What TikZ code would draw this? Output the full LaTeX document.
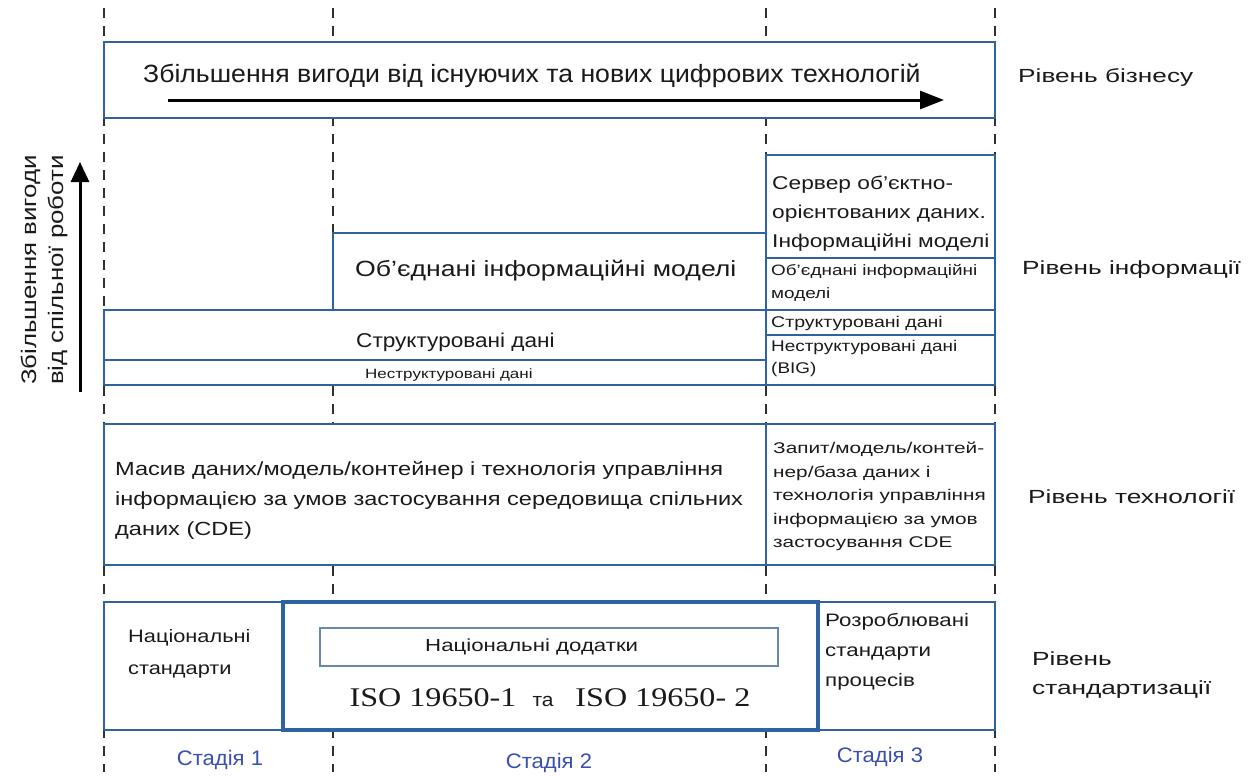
\documentclass[tikz,border=0pt]{standalone}
\usepackage{fontspec}
\setmainfont{Liberation Sans}
\newcommand\tf[3]{\fontspec{Liberation Sans}[FakeStretch=#1]\fontsize{#2}{#3}\selectfont}
\newcommand\tfser[3]{\fontspec{Liberation Serif}[FakeStretch=#1]\fontsize{#2}{#3}\selectfont}
\usetikzlibrary{arrows.meta}
\definecolor{boxblue}{HTML}{2F62A0}
\definecolor{innerblue}{HTML}{6A88AE}
\definecolor{stageblue}{HTML}{3B4FB0}
\definecolor{dashgray}{HTML}{303030}
\definecolor{txt}{HTML}{1A1A1A}
\begin{document}
\begin{tikzpicture}[x=1pt,y=-1pt,
  guide/.style={draw=dashgray,line width=2.4pt,dash pattern=on 10pt off 8pt},
  box/.style={draw=boxblue,line width=2.3pt,fill=white},
  thickbox/.style={draw=boxblue,line width=4.2pt},
  innerbox/.style={draw=innerblue,line width=1.4pt,fill=white},
  lbl/.style={inner sep=0pt,text=txt,align=left},
  stage/.style={inner sep=0pt,text=stageblue,font=\tf{1.05}{21}{25}},
  level/.style={inner sep=0pt,text=txt,align=left,anchor=west,font=\tf{1.38}{19}{29}},
  bigarrow/.style={line width=3pt,-{Triangle[length=24pt,width=18pt]}}
]
\useasboundingbox (0,0) rectangle (1256,776);
\fill[white] (0,0) rectangle (1256,776);
% stage guides
\foreach \gx/\gn in {104/g1,333/g2,766/g3,995/g4}{
  \coordinate (\gn t) at (\gx,8);
  \coordinate (\gn b) at (\gx,772);
  \draw[guide] (\gn t) -- (\gn b);
}
% business level
\draw[box] (104,42) rectangle (995,118);
\node[lbl,anchor=west,font=\tf{1.065}{25}{30}] (biztext) at (143,76) {Збільшення вигоди від існуючих та нових цифрових технологій};
\coordinate (bizA) at (168,100);
\coordinate (bizB) at (944,100);
\draw[bigarrow] (bizA) -- (bizB);
% information level - left
\draw[box] (333,233) rectangle (766,310);
\node[lbl,anchor=west,font=\tf{1.21}{22}{26}] (oim) at (355,271) {Об’єднані інформаційні моделі};
\draw[box] (104,310) rectangle (766,360);
\node[lbl,anchor=west,font=\tf{1.13}{20}{23}] (sd) at (356,342) {Структуровані дані};
\draw[box] (104,360) rectangle (766,385);
\node[lbl,anchor=west,font=\tf{1.26}{13.5}{16}] (nd) at (365,375) {Неструктуровані дані};
% information level - right column
\draw[box] (766,155) rectangle (995,258);
\node[lbl,anchor=north west,font=\tf{1.23}{18.5}{29}] (srv) at (772,176) {Сервер об’єктно-\\орієнтованих даних.\\Інформаційні моделі};
\draw[box] (766,258) rectangle (995,310);
\node[lbl,anchor=north west,font=\tf{1.26}{15}{23}] (oim2) at (771,264) {Об’єднані інформаційні\\моделі};
\draw[box] (766,310) rectangle (995,335);
\node[lbl,anchor=west,font=\tf{1.26}{15.5}{19}] (sd2) at (771,323) {Структуровані дані};
\draw[box] (766,335) rectangle (995,385);
\node[lbl,anchor=north west,font=\tf{1.22}{15.5}{22}] (nd2) at (771,340) {Неструктуровані дані\\(BIG)};
% technology level
\draw[box] (104,424) rectangle (995,565);
\draw[draw=boxblue,line width=2.3pt] (766,424) -- (766,565);
\node[lbl,anchor=west,font=\tf{1.24}{19}{30}] (tech1) at (115,500) {Масив даних/модель/контейнер і технологія управління\\інформацією за умов застосування середовища спільних\\даних (CDE)};
\node[lbl,anchor=north west,font=\tf{1.34}{15.5}{23.5}] (tech2) at (773,442) {Запит/модель/контей-\\нер/база даних і\\технологія управління\\інформацією за умов\\застосування CDE};
% standardization level
\draw[box] (104,602) rectangle (995,730);
\draw[thickbox,fill=white] (283,602) rectangle (818,730);
\draw[innerbox] (320,628) rectangle (778,666);
\node[lbl,anchor=west,font=\tf{1.27}{17.5}{21}] (nadd) at (425,647) {Національні додатки};
\node[lbl,anchor=center] (iso) at (550,698) {{\tfser{1.19}{27}{32}ISO 19650-1}\hspace{16pt}{\tf{1.1}{19}{23}та}\hspace{22pt}{\tfser{1.19}{27}{32}ISO 19650- 2}};
\node[lbl,anchor=north west,font=\tf{1.21}{18}{32}] (nst) at (128,629) {Національні\\стандарти};
\node[lbl,anchor=north west,font=\tf{1.24}{18}{30}] (rst) at (825,613) {Розроблювані\\стандарти\\процесів};
% stage labels
\node[stage] (s1) at (220,760) {Стадія 1};
\node[stage] (s2) at (549,763) {Стадія 2};
\node[stage] (s3) at (880,757) {Стадія 3};
% level labels
\node[level] (l1) at (1018,78) {Рівень бізнесу};
\node[level] (l2) at (1022,270) {Рівень інформації};
\node[level] (l3) at (1028,497) {Рівень технології};
\node[level] (l4) at (1032,675) {Рівень\\стандартизації};
% vertical collaboration arrow
\coordinate (vA) at (80,392);
\coordinate (vB) at (80,162);
\draw[line width=3pt,-{Triangle[length=20pt,width=18pt]}] (vA) -- (vB);
\node[inner sep=0pt,text=txt,rotate=90,align=center,font=\tf{1.23}{21}{27}] (vtext) at (44,270) {Збільшення вигоди\\від спільної роботи};
\end{tikzpicture}
\end{document}
